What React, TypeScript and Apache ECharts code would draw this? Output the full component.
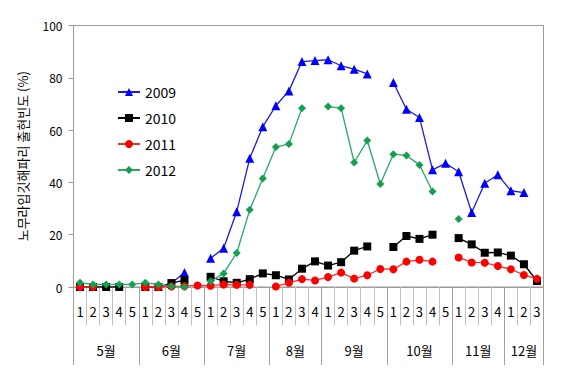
import React, { useEffect, useRef } from 'react';
import * as echarts from 'echarts';

// ---- data ----
const weekLabels = [
  '1', '2', '3', '4', '5',
  '1', '2', '3', '4', '5',
  '1', '2', '3', '4', '5',
  '1', '2', '3', '4',
  '1', '2', '3', '4', '5',
  '1', '2', '3', '4', '5',
  '1', '2', '3', '4',
  '1', '2', '3',
];
const months = ['5월', '6월', '7월', '8월', '9월', '10월', '11월', '12월'];
const weeksPerMonth = [5, 5, 5, 4, 5, 5, 4, 3];

const seriesNames = ['2009', '2010', '2011', '2012'];

const y2009 = [
  null, null, null, null, null,
  null, null, 1.4, 5.5, null,
  11, 14.8, 28.8, 49.2, 61.3,
  69.3, 75, 86.2, 86.6,
  86.9, 84.6, 83.3, 81.5, null,
  78.2, 68, 64.8, 44.8, 47.3,
  44.1, 28.5, 39.7, 42.9,
  36.8, 36.1, null,
];
const y2010 = [
  0, 0, 0, 0, null,
  0, 0, 1.5, 2.6, null,
  3.9, 2.2, 1.6, 3.0, 5.2,
  4.5, 2.9, 7.0, 9.8,
  8.2, 9.5, 13.9, 15.5, null,
  15.3, 19.5, 18.4, 20.0, null,
  18.7, 16.3, 13.1, 13.2,
  12.0, 8.7, 2.3,
];
const y2011 = [
  0, 0, null, null, null,
  0, 0, 0.2, 0.3, 0.6,
  0.5, 0.9, 0.8, 0.8, null,
  0.2, 1.6, 3.0, 2.5,
  3.8, 5.5, 3.2, 4.5, 6.9,
  6.8, 9.7, 10.4, 9.7, null,
  11.3, 9.4, 9.3, 8.0,
  6.8, 4.6, 3.1,
];
const y2012 = [
  1.6, 1.0, 1.0, 1.0, 1.0,
  1.6, 1.0, 0.2, 0, null,
  2.2, 5.2, 13.0, 29.5, 41.5,
  53.5, 54.7, 68.4, null,
  69.0, 68.4, 47.6, 56.0, 39.4,
  50.8, 50.3, 46.7, 36.5, null,
  26.0, null, null, null,
  null, null, null,
];
const yTicks = [0, 20, 40, 60, 80, 100];

// ---- derived positions for month axis ----
const monthBounds: number[] = [0];
weeksPerMonth.forEach((n) => monthBounds.push(monthBounds[monthBounds.length - 1] + n));
const monthCenters = weeksPerMonth.map((n, i) => monthBounds[i] + n / 2);

const FONT = "'Noto Sans CJK KR', 'Noto Sans', sans-serif";

const styles = [
  { color: '#0000ff', line: '#1a1ae0', symbol: 'triangle', size: 9 },
  { color: '#000000', line: '#000000', symbol: 'rect', size: 8 },
  { color: '#ff0000', line: '#f03030', symbol: 'circle', size: 8 },
  { color: '#12a050', line: '#2aa866', symbol: 'diamond', size: 8 },
];
const values = [y2009, y2010, y2011, y2012];

export default function App() {
  const ref = useRef<HTMLDivElement>(null);
  useEffect(() => {
    if (!ref.current) return;
    const chart = echarts.init(ref.current, null, { renderer: 'svg' });
    chart.setOption({
      animation: false,
      textStyle: { fontFamily: FONT },
      grid: {
        left: 73.5,
        right: 19.5,
        top: 25.5,
        bottom: 99,
        show: true,
        borderColor: '#9a9a9a',
        borderWidth: 1,
        backgroundColor: 'transparent',
      },
      legend: {
        orient: 'vertical',
        left: 112,
        top: 79,
        itemWidth: 22,
        itemHeight: 10,
        itemGap: 10,
        data: seriesNames,
        textStyle: { fontSize: 14, color: '#000', lineHeight: 16, fontFamily: FONT },
      },
      xAxis: [
        {
          type: 'category',
          data: weekLabels,
          boundaryGap: true,
          position: 'bottom',
          axisLine: { show: true, lineStyle: { color: '#9a9a9a', width: 1 } },
          axisTick: { show: true, interval: 0, length: 38, lineStyle: { color: '#c0c0c0' } },
          axisLabel: { interval: 0, margin: 18, fontSize: 13, color: '#000', fontFamily: FONT },
          splitLine: { show: false },
        },
        {
          type: 'value',
          min: 0,
          max: weekLabels.length,
          position: 'bottom',
          axisLine: { show: false },
          axisTick: { show: true, customValues: monthBounds, length: 78, lineStyle: { color: '#a0a0a0' } },
          axisLabel: {
            customValues: monthCenters,
            margin: 57,
            fontSize: 13,
            color: '#000',
            fontFamily: FONT,
            formatter: (v: number) => {
              const i = monthCenters.findIndex((c) => Math.abs(c - v) < 1e-6);
              return i >= 0 ? months[i] : '';
            },
          },
          splitLine: { show: false },
        },
      ],
      yAxis: {
        type: 'value',
        min: 0,
        max: 100,
        interval: 20,
        name: '노무라입깃해파리 출현빈도 (%)',
        nameLocation: 'middle',
        nameGap: 45,
        nameTextStyle: { fontSize: 13, color: '#000', fontFamily: FONT },
        axisLine: { show: true, lineStyle: { color: '#9a9a9a', width: 1 } },
        axisTick: { show: true, length: 5, lineStyle: { color: '#9a9a9a' } },
        axisLabel: {
          margin: 11,
          fontSize: 12,
          color: '#000',
          fontFamily: FONT,
          customValues: yTicks,
        },
        splitLine: { show: false },
      },
      series: seriesNames.map((name, k) => ({
        name,
        type: 'line',
        xAxisIndex: 0,
        yAxisIndex: 0,
        data: values[k],
        connectNulls: false,
        symbol: styles[k].symbol,
        symbolSize: styles[k].size,
        showAllSymbol: true,
        itemStyle: { color: styles[k].color, borderWidth: 0 },
        lineStyle: { color: styles[k].line, width: 1.3 },
        z: 2 + k,
      })),
    });
    return () => chart.dispose();
  }, []);
  return (
    <div
      ref={ref}
      style={{ position: 'absolute', left: 0, top: 0, width: 563, height: 386, background: '#fff' }}
    />
  );
}
